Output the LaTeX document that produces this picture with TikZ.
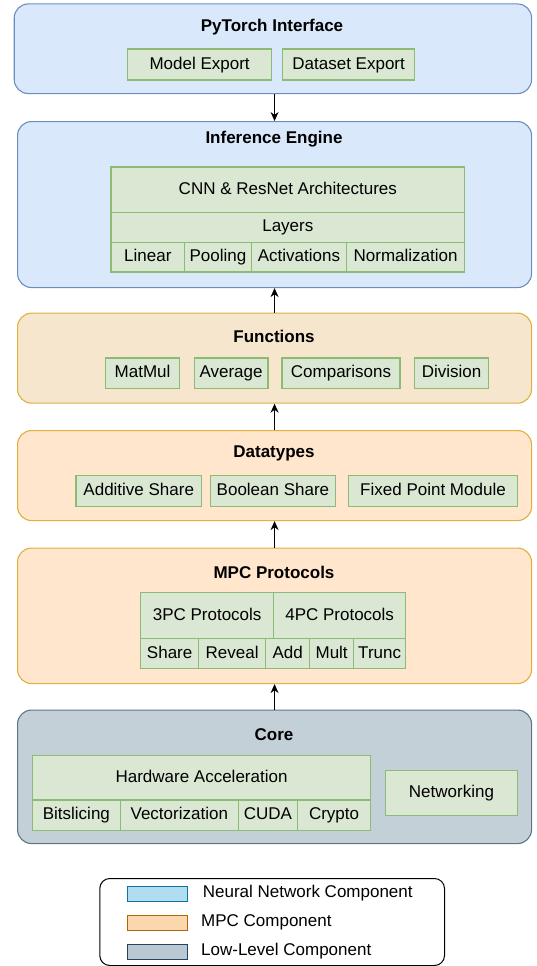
\documentclass[tikz,border=0pt]{standalone}
\usepackage{fontspec}
\setmainfont{Liberation Sans}
\usepackage{tikz}
\usetikzlibrary{arrows.meta}
\usetikzlibrary{positioning}

\definecolor{nnfill}{HTML}{DAE8FC}
\definecolor{nndraw}{HTML}{6C8EBF}
\definecolor{fnfill}{HTML}{F6E6CE}
\definecolor{mpcfill}{HTML}{FFE6CC}
\definecolor{mpcdraw}{HTML}{E0B040}
\definecolor{corefill}{HTML}{C4D0D8}
\definecolor{coredraw}{HTML}{5F7585}
\definecolor{partfill}{HTML}{D9E7D3}
\definecolor{partdraw}{HTML}{8DBB73}
\definecolor{keynn}{HTML}{B1DDF0}
\definecolor{keynnd}{HTML}{10739E}
\definecolor{keympc}{HTML}{FAD7AC}
\definecolor{keympcd}{HTML}{B46504}
\definecolor{keycore}{HTML}{BAC8D3}
\definecolor{keycored}{HTML}{23445D}

\tikzset{
	layer/.style={rounded corners=14pt, line width=1.1pt, anchor=north west, inner sep=0pt},
	part/.style={draw=partdraw, fill=partfill, line width=1.3pt, anchor=north west, inner sep=0pt, text height=12.5pt, text depth=3.5pt, font=\fontsize{17}{20}\selectfont},
	ttl/.style={font=\fontsize{17}{20}\selectfont\bfseries},
	swatch/.style={line width=1.1pt, anchor=north west, inner sep=0pt, minimum width=60pt, minimum height=15pt},
	keytext/.style={anchor=west, inner sep=0pt, text height=12.5pt, text depth=3.5pt, font=\fontsize{17}{20}\selectfont}
}

\begin{document}
\begin{tikzpicture}[x=1pt, y=-1pt, >={Stealth[length=9pt,width=8pt]}]
			\useasboundingbox (0,0) rectangle (536,966);
			
			%layers
			\node[layer, draw=nndraw, fill=nnfill, minimum width=517.3pt, minimum height=89.6pt] (torch) at (13.7,3.4) {};
			\node[layer, draw=nndraw, fill=nnfill, minimum width=514pt, minimum height=166pt] (infer) at (17,121) {};
			\node[layer, draw=mpcdraw, fill=fnfill, minimum width=514pt, minimum height=90pt] (func) at (17,312.6) {};
			\node[layer, draw=mpcdraw, fill=mpcfill, minimum width=514pt, minimum height=90pt] (dtype) at (17,430) {};
			\node[layer, draw=mpcdraw, fill=mpcfill, minimum width=514pt, minimum height=135.5pt] (mpc) at (17,547.5) {};
			\node[layer, draw=coredraw, fill=corefill, minimum width=514pt, minimum height=133.5pt] (core) at (17,709.5) {};
			
			%titles
			\node[ttl] (torchT) at (272,26.7) {PyTorch Interface};
			\node[ttl] (inferT) at (274,139) {Inference Engine};
			\node[ttl] (funcT) at (274,336) {Functions};
			\node[ttl] (dtypeT) at (274,453) {Datatypes};
			\node[ttl] (mpcT) at (274,572.5) {MPC Protocols};
			\node[ttl] (coreT) at (274,734.5) {Core};
			
			%pytorch interface
			\node[part, minimum width=144pt, minimum height=30.8pt] (mexp) at (127,48.5) {Model Export};
			\node[part, minimum width=132pt, minimum height=30.8pt] (dexp) at (282,48.5) {Dataset Export};
			
			%inference engine
			\node[part, minimum width=353.6pt, minimum height=45.1pt] (arch) at (110.4,166.4) {CNN \& ResNet Architectures};
			\node[part, minimum width=353.6pt, minimum height=30.1pt] (lay) at (110.4,211.5) {Layers};
			\node[part, minimum width=73.6pt, minimum height=29.8pt] (lin) at (110.4,241.6) {Linear};
			\node[part, minimum width=66.6pt, minimum height=29.8pt] (pool) at (184,241.6) {Pooling};
			\node[part, minimum width=95.4pt, minimum height=29.8pt] (act) at (250.6,241.6) {Activations};
			\node[part, minimum width=118pt, minimum height=29.8pt] (norm) at (346,241.6) {Normalization};
			
			%functions
			\node[part, minimum width=73.8pt, minimum height=30.5pt] (mm) at (105,357.4) {MatMul};
			\node[part, minimum width=73.9pt, minimum height=30.5pt] (avg) at (193.5,357.4) {Average};
			\node[part, minimum width=117.9pt, minimum height=30.5pt] (cmp) at (281.4,357.4) {Comparisons};
			\node[part, minimum width=73.9pt, minimum height=30.5pt] (div) at (414,357.4) {Division};
			
			%datatypes
			\node[part, minimum width=125.8pt, minimum height=30.8pt] (ash) at (75.2,474.7) {Additive Share};
			\node[part, minimum width=125.4pt, minimum height=30.8pt] (bsh) at (209.6,474.7) {Boolean Share};
			\node[part, minimum width=169.3pt, minimum height=30.8pt] (fpm) at (347.7,474.7) {Fixed Point Module};
			
			%mpc protocols
			\node[part, minimum width=133pt, minimum height=46pt] (p3) at (140,592) {3PC Protocols};
			\node[part, minimum width=132pt, minimum height=46pt] (p4) at (273,592) {4PC Protocols};
			\node[part, minimum width=58pt, minimum height=30pt] (shr) at (140,638) {Share};
			\node[part, minimum width=67pt, minimum height=30pt] (rev) at (198,638) {Reveal};
			\node[part, minimum width=44pt, minimum height=30pt] (add) at (265,638) {Add};
			\node[part, minimum width=44pt, minimum height=30pt] (mul) at (309,638) {Mult};
			\node[part, minimum width=52pt, minimum height=30pt] (trc) at (353,638) {Trunc};
			
			%core
			\node[part, minimum width=338.2pt, minimum height=44.4pt] (hw) at (31.8,755) {Hardware Acceleration};
			\node[part, minimum width=87.9pt, minimum height=30.6pt] (bits) at (31.8,799.4) {Bitslicing};
			\node[part, minimum width=117.9pt, minimum height=30.6pt] (vec) at (119.7,799.4) {Vectorization};
			\node[part, minimum width=59.2pt, minimum height=30.6pt] (cuda) at (237.6,799.4) {CUDA};
			\node[part, minimum width=73.2pt, minimum height=30.6pt] (cry) at (296.8,799.4) {Crypto};
			\node[part, minimum width=132.4pt, minimum height=45.1pt] (net) at (384.6,769.7) {Networking};
			
			%arrows
			\draw[->, line width=0.9pt] (infer.north |- torch.south) -- (infer.north);
			\draw[->, line width=0.9pt] (func.north) -- (infer.south);
			\draw[->, line width=0.9pt] (dtype.north) -- (func.south);
			\draw[->, line width=0.9pt] (mpc.north) -- (dtype.south);
			\draw[->, line width=0.9pt] (core.north) -- (mpc.south);
			
			%legend
			\node[draw=black, line width=1pt, rounded corners=10pt, anchor=north west, inner sep=0pt, minimum width=344.7pt, minimum height=87pt] (key) at (99.3,878) {};
			\node[swatch, draw=keynnd, fill=keynn] (kNN) at (126.7,885.7) {};
			\node[swatch, draw=keympcd, fill=keympc] (kMPC) at (126.7,914.5) {};
			\node[swatch, draw=keycored, fill=keycore] (kCore) at (126.7,944) {};
			\node[keytext] (tNN) at (202.7,892.5) {Neural Network Component};
			\node[keytext] (tMPC) at (201,921.5) {MPC Component};
			\node[keytext] (tCore) at (201,951) {Low-Level Component};
			\end{tikzpicture}
\end{document}
